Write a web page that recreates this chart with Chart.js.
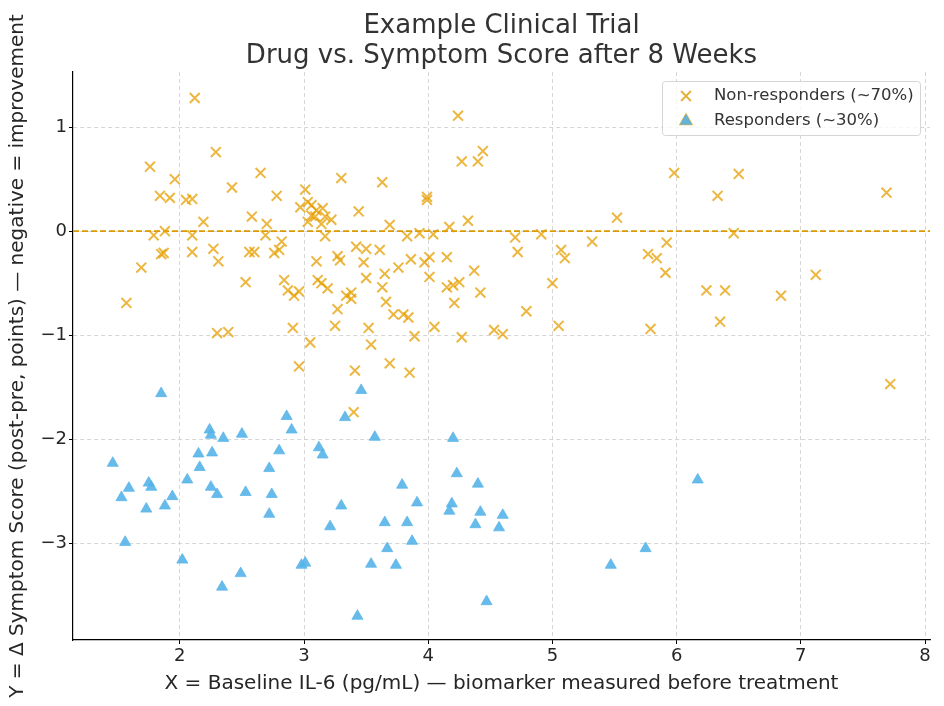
<!DOCTYPE html>
<html>
<head>
<meta charset="utf-8">
<script src="https://cdn.jsdelivr.net/npm/chart.js@4.4.1/dist/chart.umd.min.js"></script>
<style>
    html, body { margin: 0; padding: 0; background: #fff; }
    #trialChart { display: block; }
</style>
</head>
<body>
<canvas id="trialChart" width="944" height="706"></canvas>
<script>
// values
const titleLines = ['Example Clinical Trial', 'Drug vs. Symptom Score after 8 Weeks'];
const xLabel = 'X = Baseline IL-6 (pg/mL) \u2014 biomarker measured before treatment';
const yLabel = 'Y = \u0394 Symptom Score (post-pre, points) \u2014 negative = improvement';
const seriesNames = ['Non-responders (~70%)', 'Responders (~30%)'];

const xTicks = [2, 3, 4, 5, 6, 7, 8];
const yTicks = [-3, -2, -1, 0, 1];
const xRange = [1.14, 8.04];
const yRange = [-3.93, 1.53];

const nonRespX = [
    2.12, 2.29, 1.76, 1.96, 2.65, 2.42, 1.84, 1.92, 2.05, 2.10, 2.78, 2.97, 3.01, 2.19, 2.58, 2.70, 1.88, 1.79, 2.10, 2.69,
    2.82, 1.85, 1.87, 2.10, 2.27, 2.31, 2.56, 2.60, 2.76, 2.80, 1.69, 2.53, 2.84, 1.57, 2.87, 2.92, 2.96, 2.30, 2.39, 2.91,
    2.96, 4.24, 4.44, 4.27, 4.40, 3.30, 3.63, 3.99, 3.99, 3.03, 3.06, 3.10, 3.15, 3.06, 3.09, 3.03, 3.17, 3.22, 3.14, 3.17,
    3.44, 3.69, 3.83, 3.93, 4.04, 4.17, 4.32, 4.70, 4.72, 3.10, 3.27, 3.29, 3.42, 3.50, 3.48, 3.61, 3.76, 3.86, 3.97, 4.01,
    4.15, 4.37, 3.65, 3.50, 4.01, 3.11, 3.14, 3.19, 3.63, 4.15, 4.20, 4.25, 4.42, 3.34, 3.38, 3.38, 3.66, 4.21, 3.27, 3.72,
    3.80, 3.84, 3.25, 3.52, 4.05, 3.89, 4.27, 4.53, 4.60, 3.05, 3.54, 3.41, 3.69, 3.85, 3.40, 5.98, 6.50, 6.33, 7.69, 5.52,
    4.91, 5.07, 5.10, 5.32, 6.46, 5.92, 5.77, 5.84, 5.91, 5.00, 4.79, 5.05, 5.79, 6.24, 6.39, 6.35, 6.84, 7.12, 7.72
];
const nonRespY = [
    1.28, 0.76, 0.62, 0.50, 0.56, 0.42, 0.34, 0.32, 0.30, 0.31, 0.34, 0.23, 0.40, 0.09, 0.14, 0.07, 0.00, -0.04, -0.04, -0.04,
    -0.10, -0.22, -0.21, -0.20, -0.17, -0.29, -0.20, -0.20, -0.21, -0.18, -0.35, -0.49, -0.47, -0.69, -0.57, -0.62, -0.58, -0.98, -0.97, -0.93,
    -1.30, 1.11, 0.77, 0.67, 0.67, 0.51, 0.47, 0.33, 0.30, 0.28, 0.25, 0.20, 0.22, 0.15, 0.14, 0.09, 0.14, 0.11, 0.07, -0.05,
    0.19, 0.06, -0.05, -0.02, -0.03, 0.04, 0.10, -0.06, -0.20, -0.29, -0.24, -0.28, -0.15, -0.17, -0.30, -0.18, -0.35, -0.27, -0.30, -0.25,
    -0.25, -0.38, -0.41, -0.45, -0.44, -0.47, -0.50, -0.55, -0.54, -0.54, -0.52, -0.49, -0.59, -0.62, -0.59, -0.65, -0.68, -0.69, -0.75, -0.80,
    -0.80, -0.83, -0.91, -0.93, -0.92, -1.01, -1.02, -0.95, -0.99, -1.07, -1.09, -1.34, -1.27, -1.36, -1.74, 0.56, 0.55, 0.34, 0.37, 0.13,
    -0.03, -0.18, -0.26, -0.10, -0.02, -0.11, -0.22, -0.26, -0.40, -0.50, -0.77, -0.91, -0.94, -0.57, -0.57, -0.87, -0.62, -0.42, -1.47
];

const respX = [
    1.85, 2.86, 2.90, 2.24, 2.25, 2.35, 2.50, 1.46, 2.15, 2.26, 2.16, 2.80, 2.72, 2.06, 1.75, 1.77, 1.59, 1.53, 1.94, 2.25,
    2.30, 2.53, 2.74, 1.73, 1.88, 2.72, 1.56, 2.02, 2.49, 2.34, 2.98, 3.46, 3.33, 3.57, 4.20, 3.12, 3.15, 4.23, 4.40, 3.79,
    3.91, 4.19, 4.17, 4.42, 4.60, 4.38, 4.57, 3.30, 3.65, 3.83, 3.21, 3.87, 3.67, 3.01, 3.54, 3.74, 4.47, 3.43, 6.17, 5.75,
    5.47
];
const respY = [
    -1.56, -1.78, -1.91, -1.91, -1.96, -1.99, -1.95, -2.23, -2.14, -2.13, -2.27, -2.11, -2.28, -2.39, -2.42, -2.46, -2.47, -2.56, -2.55, -2.46,
    -2.53, -2.51, -2.53, -2.67, -2.64, -2.72, -2.99, -3.16, -3.29, -3.42, -3.21, -1.53, -1.79, -1.98, -1.99, -2.08, -2.15, -2.33, -2.43, -2.44,
    -2.61, -2.62, -2.69, -2.70, -2.73, -2.82, -2.85, -2.64, -2.80, -2.80, -2.84, -2.98, -3.05, -3.19, -3.20, -3.21, -3.56, -3.70, -2.39, -3.05,
    -3.21
];

const orange = 'rgba(230, 159, 0, 0.75)';
const blue = 'rgba(86, 180, 233, 0.9)';
const textColor = '#262626';
const fontFamily = '"DejaVu Sans", Verdana, sans-serif';

function toPoints(xs, ys) {
    return xs.map(function (x, i) {
        return {x: x, y: ys[i]};
    });
}

function formatTick(value) {
    return value < 0 ? '\u2212' + Math.abs(value) : String(value);
}

// two-line title centred over the axes
const titlePlugin = {
    id: 'twoLineTitle',
    afterDraw(chart) {
        const ctx = chart.ctx;
        const area = chart.chartArea;
        const cx = (area.left + area.right) / 2;
        ctx.save();
        ctx.fillStyle = '#333';
        ctx.font = '26px ' + fontFamily;
        ctx.textAlign = 'center';
        ctx.textBaseline = 'alphabetic';
        ctx.fillText(titleLines[0], cx, 33);
        ctx.fillText(titleLines[1], cx, 63);
        ctx.restore();
    }
};

// boxed legend in the upper right corner
const legendPlugin = {
    id: 'boxLegend',
    afterDraw(chart) {
        const ctx = chart.ctx;
        const left = 662, top = 81, width = 258, height = 54;
        ctx.save();
        ctx.fillStyle = 'rgba(255,255,255,0.8)';
        ctx.strokeStyle = '#d5d5d5';
        ctx.lineWidth = 1;
        ctx.beginPath();
        ctx.roundRect(left + 0.5, top + 0.5, width, height, 3);
        ctx.fill();
        ctx.stroke();

        const rows = [96, 121];
        chart.data.datasets.slice(0, 2).forEach(function (ds, i) {
            Chart.helpers.drawPoint(ctx, {
                pointStyle: ds.pointStyle,
                radius: ds.pointRadius,
                rotation: 0,
                borderWidth: ds.borderWidth
            }, 686, rows[i]);
            ctx.fillStyle = ds.backgroundColor;
            ctx.strokeStyle = ds.borderColor;
            ctx.lineWidth = ds.borderWidth;
            if (ds.pointStyle === 'triangle') ctx.fill();
            ctx.stroke();
        });

        ctx.fillStyle = '#333';
        ctx.font = '16.5px ' + fontFamily;
        ctx.textAlign = 'left';
        ctx.textBaseline = 'middle';
        ctx.fillText(seriesNames[0], 714, rows[0]);
        ctx.fillText(seriesNames[1], 714, rows[1]);
        ctx.restore();
    }
};

const canvas = document.getElementById('trialChart');

new Chart(canvas.getContext('2d'), {
    type: 'scatter',
    data: {
        datasets: [{
            label: seriesNames[0],
            data: toPoints(nonRespX, nonRespY),
            pointStyle: 'crossRot',
            pointRadius: 7,
            borderWidth: 2,
            borderColor: orange,
            backgroundColor: orange,
            order: 2
        }, {
            label: seriesNames[1],
            data: toPoints(respX, respY),
            pointStyle: 'triangle',
            pointRadius: 6.4,
            borderWidth: 0.8,
            borderColor: blue,
            backgroundColor: blue,
            order: 1
        }, {
            label: 'zero',
            type: 'line',
            data: [{x: xRange[0], y: 0}, {x: xRange[1], y: 0}],
            borderColor: '#DB9A00',
            borderWidth: 1.6,
            borderDash: [6, 3],
            pointRadius: 0,
            order: 3
        }]
    },
    options: {
        responsive: false,
        animation: false,
        events: [],
        layout: {padding: {top: 72, right: 14, left: 0, bottom: 0}},
        plugins: {
            legend: {display: false},
            title: {display: false},
            tooltip: {enabled: false}
        },
        scales: {
            x: {
                type: 'linear',
                min: xRange[0],
                max: xRange[1],
                afterFit: function (scale) { scale.height = 66; },
                afterBuildTicks: function (scale) {
                    scale.ticks = xTicks.map(function (v) { return {value: v}; });
                },
                ticks: {
                    color: textColor,
                    font: {family: fontFamily, size: 18},
                    padding: 2,
                    maxRotation: 0,
                    callback: formatTick
                },
                grid: {
                    color: '#cccccc',
                    lineWidth: 0.8,
                    tickLength: 4,
                    tickColor: '#000',
                    tickWidth: 1
                },
                border: {display: true, color: '#000', width: 1.2, dash: [4, 3]},
                title: {
                    display: true,
                    text: xLabel,
                    color: textColor,
                    font: {family: fontFamily, size: 20},
                    padding: {top: 0, bottom: 10}
                }
            },
            y: {
                type: 'linear',
                min: yRange[0],
                max: yRange[1],
                afterFit: function (scale) { scale.width = 73; },
                afterBuildTicks: function (scale) {
                    scale.ticks = yTicks.map(function (v) { return {value: v}; });
                },
                ticks: {
                    color: textColor,
                    font: {family: fontFamily, size: 18},
                    padding: 2,
                    callback: formatTick
                },
                grid: {
                    color: '#cccccc',
                    lineWidth: 0.8,
                    tickLength: 4,
                    tickColor: '#000',
                    tickWidth: 1
                },
                border: {display: true, color: '#000', width: 1.2, dash: [4, 3]},
                title: {
                    display: true,
                    text: yLabel,
                    color: textColor,
                    font: {family: fontFamily, size: 20},
                    padding: {top: 6, bottom: 0}
                }
            }
        }
    },
    plugins: [titlePlugin, legendPlugin]
});
</script>
</body>
</html>
